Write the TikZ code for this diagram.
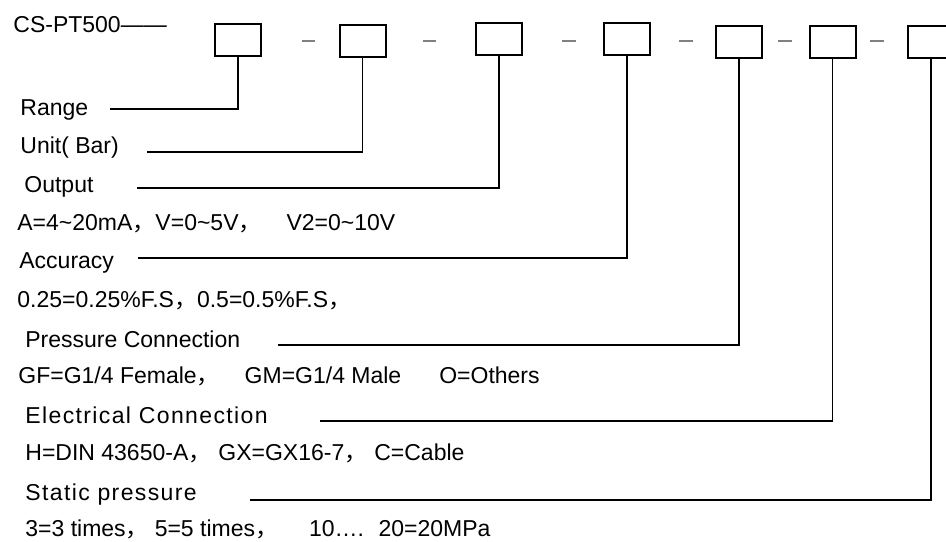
\documentclass[tikz,border=0pt]{standalone}
\usepackage{fontspec}
\setmainfont{Liberation Sans}
\newfontfamily\cjk{Noto Sans CJK SC}
\newfontfamily\widesans[LetterSpace=6]{Liberation Sans}
\usepackage{tikz}
\usetikzlibrary{positioning}
\newcommand{\cjkcomma}{{\cjk ，}}
\tikzstyle{codebox}=[shape=rectangle,draw,line width=1pt,minimum width=23pt,minimum height=16pt,inner sep=0pt]
\tikzstyle{sepdash}=[draw=gray,line width=1pt]
\tikzstyle{labelstyle}=[anchor=base west,inner sep=0pt,font=\fontsize{11.5}{14}\selectfont]
\tikzstyle{leadline}=[line width=0.75pt]
\newcommand{\csbox}[3]{ \node [style=codebox] (#1) at (#2,#3) {}; }
\newcommand{\csdash}[3]{ \coordinate (#1a) at (#2,41); \coordinate (#1b) at (#3,41); \draw [style=sepdash] (#1a) -- (#1b); }
\newcommand{\cstext}[4]{ \node [style=labelstyle] (#1) at (#2,#3) {#4}; }
\newcommand{\csline}[4]{ \coordinate (#1) at (#2,#3); \draw [style=leadline] (#1) -| (#4.south); }
\begin{document}
\begin{tikzpicture}[x=0.5pt,y=-0.5pt]
\useasboundingbox (0,0) rectangle (946,541);

\cstext{model}{13}{32}{CS-PT500——} %
\csbox{range}{238}{39.5} %
\csdash{d1}{302}{315} %
\csbox{unit}{362.5}{40.5} %
\csdash{d2}{423}{436} %
\csbox{output}{499}{38.5} %
\csdash{d3}{562}{576} %
\csbox{accuracy}{627}{38.5} %
\csdash{d4}{679}{693} %
\csbox{pconn}{739}{41.5} %
\csdash{d5}{778}{792} %
\csbox{econn}{832.5}{41.5} %
\csdash{d6}{870}{884} %
\csbox{static}{931}{41.5} %

\cstext{rangetxt}{20}{115}{Range} %
\csline{rangeln}{110}{109}{range} %
\cstext{unittxt}{20}{153}{Unit( Bar)} %
\csline{unitln}{147}{152}{unit} %
\cstext{outputtxt}{24}{192}{Output} %
\csline{outputln}{137}{188}{output} %
\cstext{outputval}{17}{230}{A=4\textasciitilde20mA\cjkcomma V=0\textasciitilde5V\cjkcomma\hspace{12.5pt}V2=0\textasciitilde10V} %
\cstext{accuracytxt}{19}{268}{Accuracy} %
\csline{accuracyln}{138}{258}{accuracy} %
\cstext{accuracyval}{17}{307}{0.25=0.25\%F.S\cjkcomma 0.5=0.5\%F.S\cjkcomma} %
\cstext{pconntxt}{25}{347}{Pressure Connection} %
\csline{pconnln}{278}{345}{pconn} %
\cstext{pconnval}{18}{383}{GF=G1/4 Female\cjkcomma\hspace{12.5pt}GM=G1/4 Male\hspace{19pt}O=Others} %
\cstext{econntxt}{25}{423}{\widesans Electrical Connection} %
\csline{econnln}{320}{421}{econn} %
\cstext{econnval}{25}{460}{H=DIN 43650-A\cjkcomma\hspace{3.5pt}GX=GX16-7\cjkcomma\hspace{3.5pt}C=Cable} %
\cstext{statictxt}{25}{500}{\widesans Static pressure} %
\csline{staticln}{250}{500}{static} %
\cstext{staticval}{25}{536}{3=3 times\cjkcomma\hspace{3pt}5=5 times\cjkcomma\hspace{15.5pt}10…. \hspace{3pt}20=20MPa} %
\end{tikzpicture}
\end{document}
